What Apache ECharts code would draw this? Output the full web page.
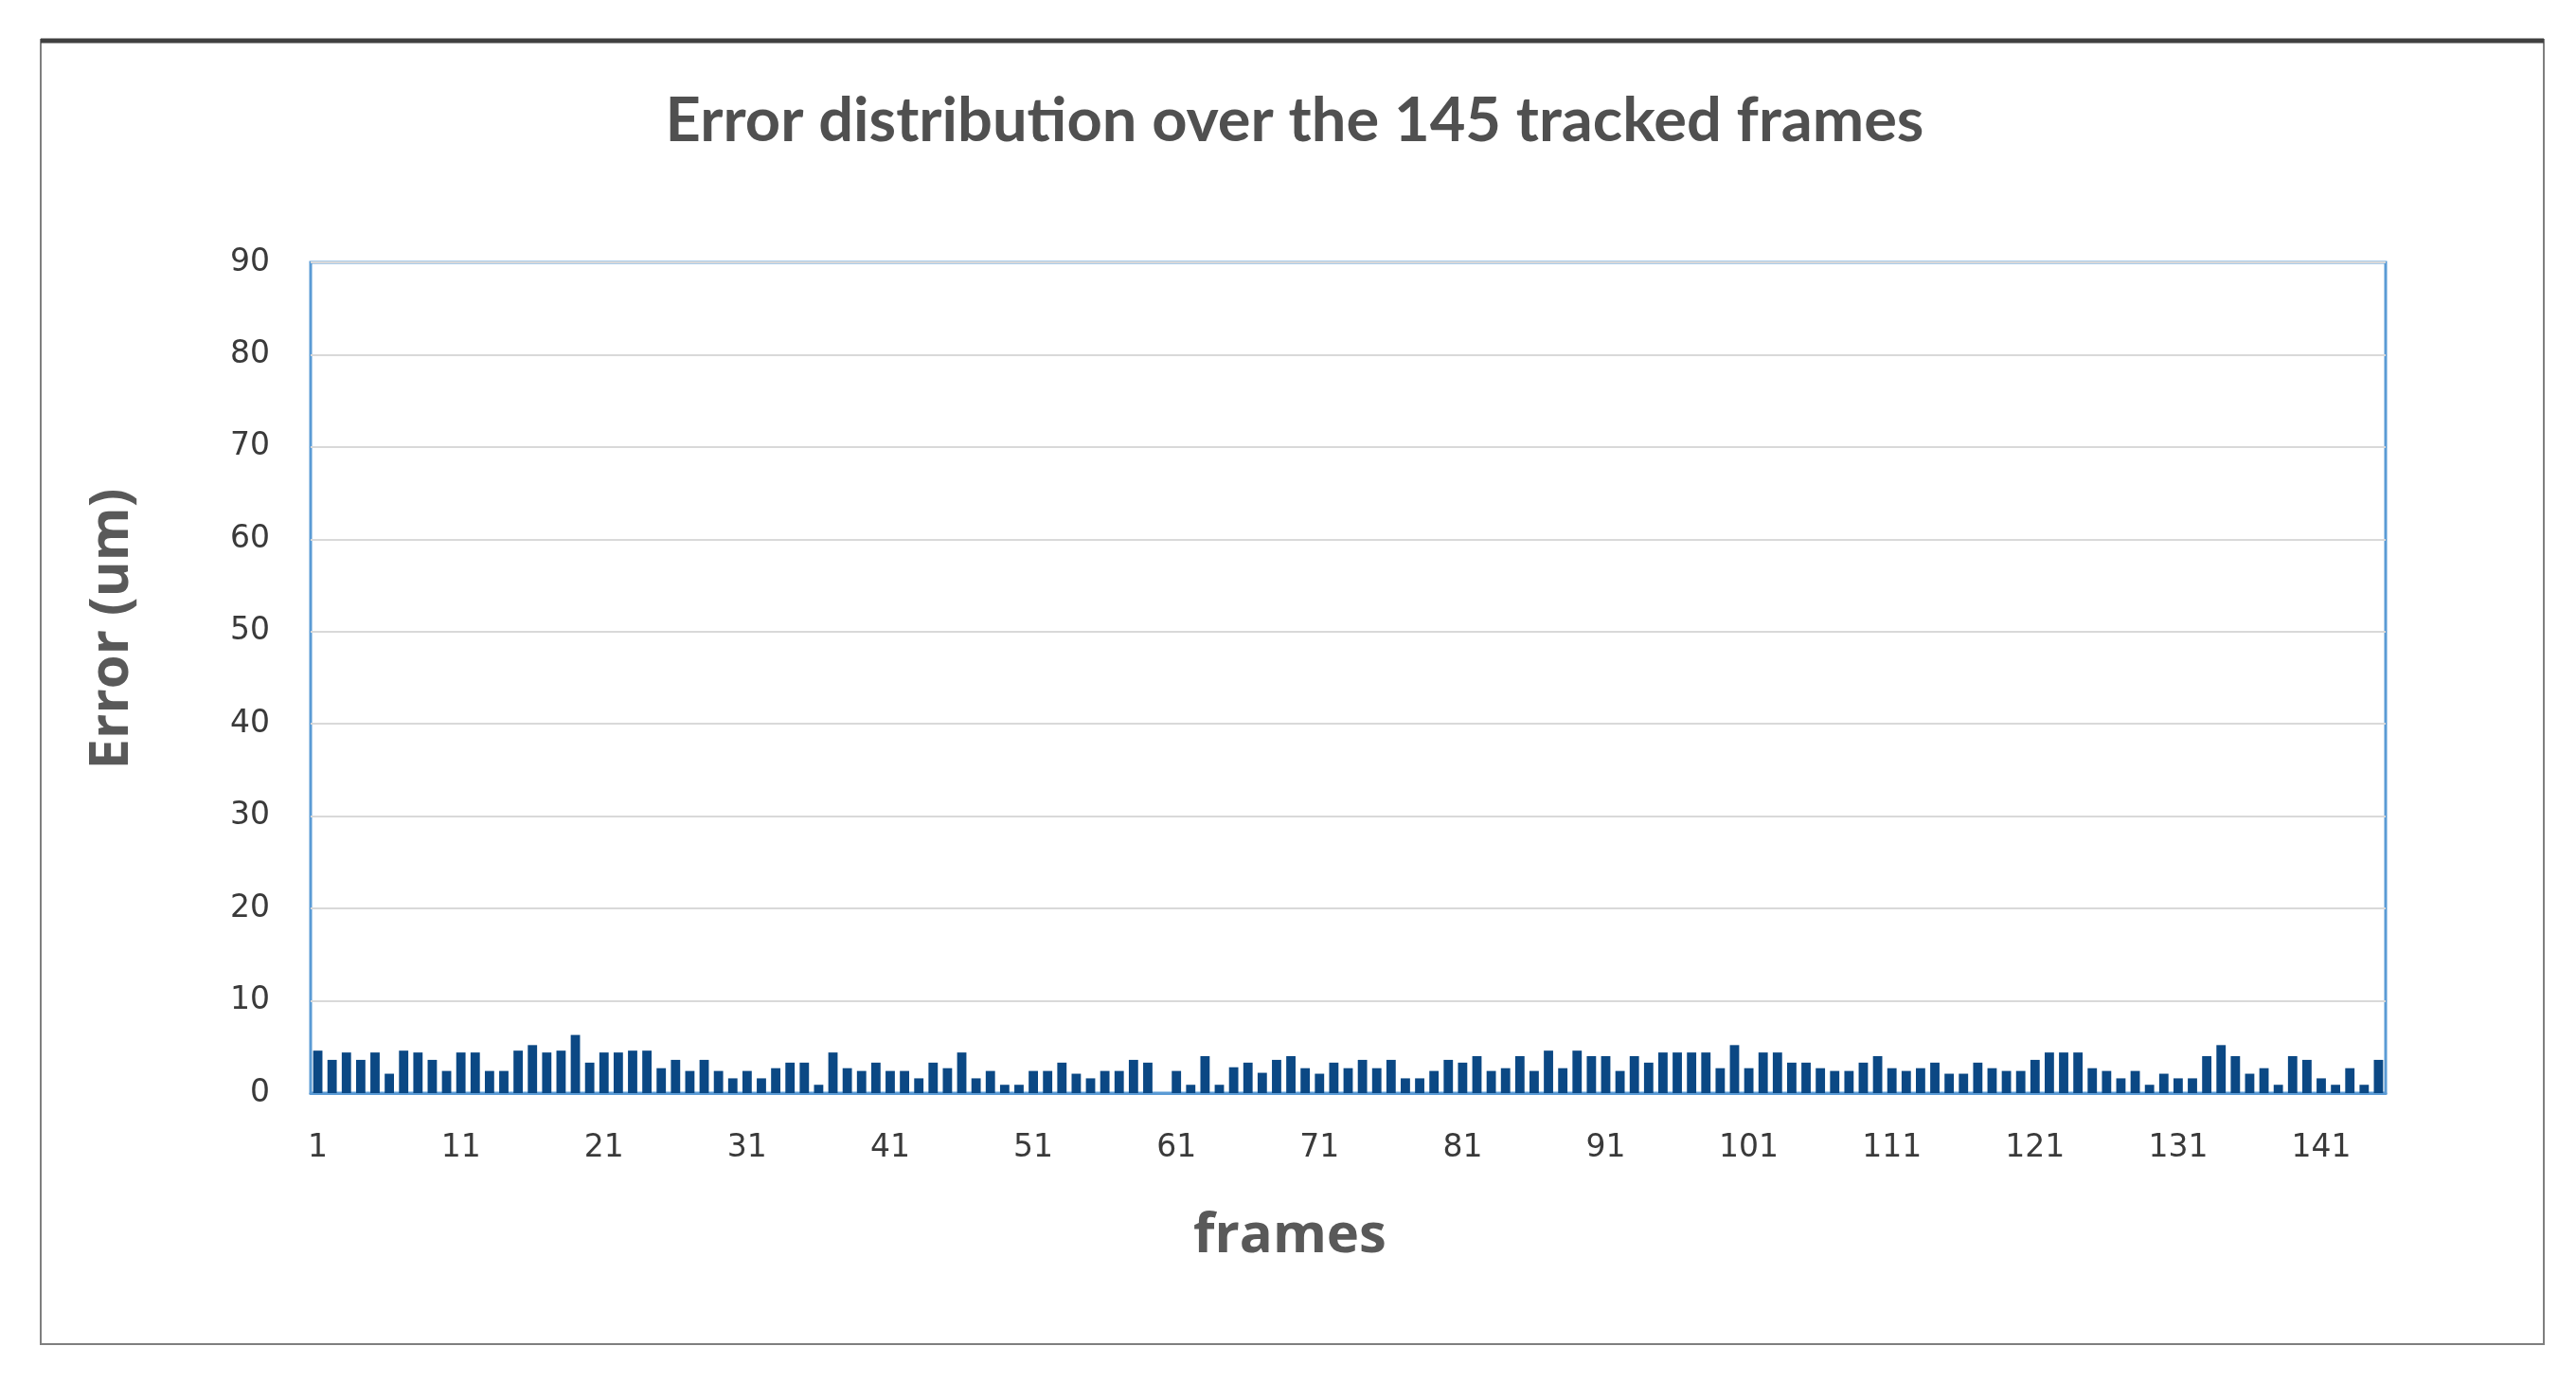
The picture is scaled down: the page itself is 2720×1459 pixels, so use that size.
<!DOCTYPE html>
<html>
<head>
<meta charset="utf-8">
<script src="https://cdn.jsdelivr.net/npm/echarts@6/dist/echarts.min.js"></script>
<style>
  html, body { margin: 0; padding: 0; background: #fff; }
  #myChart { width: 2720px; height: 1459px; }
</style>
</head>
<body>
<div id="myChart"></div>
<script>
// frame numbers 1..145
const frames = Array.from({ length: 145 }, (_, i) => String(i + 1))

// error per frame (um)
const errors1 = [4.6, 3.6, 4.4, 3.6, 4.4, 2.1, 4.6, 4.4, 3.6, 2.4, 4.4, 4.4, 2.4, 2.4, 4.6, 5.2, 4.4, 4.6, 6.3, 3.3, 4.4, 4.4, 4.6]
const errors2 = [4.6, 2.7, 3.6, 2.4, 3.6, 2.4, 1.6, 2.4, 1.6, 2.7, 3.3, 3.3, 0.9, 4.4, 2.7, 2.4, 3.3, 2.4, 2.4, 1.6, 3.3, 2.7, 4.4, 1.6]
const errors3 = [2.4, 0.9, 0.9, 2.4, 2.4, 3.3, 2.1, 1.6, 2.4, 2.4, 3.6, 3.3, 0, 2.4, 0.9, 4.0, 0.9, 2.8, 3.3, 2.2, 3.6, 4.0, 2.7, 2.1]
const errors4 = [3.3, 2.7, 3.6, 2.7, 3.6, 1.6, 1.6, 2.4, 3.6, 3.3, 4.0, 2.4, 2.7, 4.0, 2.4, 4.6, 2.7, 4.6, 4.0, 4.0, 2.4, 4.0, 3.3, 4.4]
const errors5 = [4.4, 4.4, 4.4, 2.7, 5.2, 2.7, 4.4, 4.4, 3.3, 3.3, 2.7, 2.4, 2.4, 3.3, 4.0, 2.7, 2.4, 2.7, 3.3, 2.1, 2.1, 3.3, 2.7, 2.4]
const errors6 = [2.4, 3.6, 4.4, 4.4, 4.4, 2.7, 2.4, 1.6, 2.4, 0.9, 2.1, 1.6, 1.6, 4.0, 5.2, 4.0, 2.1, 2.7, 0.9, 4.0, 3.6, 1.6, 0.9, 2.7, 0.9, 3.6]
const errors = errors1.concat(errors2, errors3, errors4, errors5, errors6)

const yTicks = [0, 10, 20, 30, 40, 50, 60, 70, 80, 90]

const nameStyle = {
  fontFamily: 'Open Sans',
  fontWeight: 'bold',
  fontSize: 58,
  fill: '#595959',
  align: 'center',
  verticalAlign: 'middle'
}

const option = {
  backgroundColor: '#ffffff',
  animation: false,
  title: {
    text: 'Error distribution over the 145 tracked frames',
    left: 1362,
    top: 123,
    textAlign: 'center',
    textVerticalAlign: 'middle',
    textStyle: {
      fontFamily: 'Lato',
      fontWeight: 'bold',
      fontSize: 65,
      color: '#505050'
    }
  },
  graphic: [
    {
      type: 'rect',
      shape: { x: 43, y: 42, width: 2643, height: 1377 },
      style: { fill: 'none', stroke: '#7f7f7f', lineWidth: 2 },
      silent: true
    },
    {
      type: 'line',
      shape: { x1: 43, y1: 43, x2: 2686, y2: 43 },
      style: { stroke: '#404040', lineWidth: 5 },
      silent: true
    },
    // axis titles
    {
      type: 'text',
      x: 118,
      y: 664,
      rotation: Math.PI / 2,
      style: Object.assign({ text: 'Error (um)' }, nameStyle),
      silent: true
    },
    {
      type: 'text',
      x: 1362,
      y: 1305,
      style: Object.assign({ text: 'frames' }, nameStyle),
      silent: true
    }
  ],
  grid: {
    left: 328,
    right: 2720 - 2519,
    top: 277,
    bottom: 1459 - 1154,
    show: true,
    borderColor: '#5b9bd5',
    borderWidth: 3,
    containLabel: false
  },
  xAxis: {
    type: 'category',
    data: frames,
    boundaryGap: true,
    axisLine: { lineStyle: { color: '#5b9bd5', width: 3 } },
    axisTick: { show: false },
    axisLabel: {
      interval: 9,
      margin: 42,
      fontFamily: 'DejaVu Sans',
      fontSize: 33,
      color: '#3a3a3a'
    }
  },
  yAxis: {
    type: 'value',
    min: yTicks[0],
    max: yTicks[yTicks.length - 1],
    interval: 10,
    axisLine: { show: false },
    axisTick: { show: false },
    axisLabel: {
      margin: 43,
      fontFamily: 'DejaVu Sans',
      fontSize: 33,
      color: '#3a3a3a'
    },
    splitLine: { lineStyle: { color: '#d9d9d9', width: 2 } }
  },
  series: [
    {
      name: 'Error',
      type: 'bar',
      data: errors,
      barCategoryGap: '35%',
      itemStyle: { color: '#0b4884' }
    }
  ]
}

const myChart = echarts.init(document.getElementById('myChart'))
myChart.setOption(option)
</script>
</body>
</html>
